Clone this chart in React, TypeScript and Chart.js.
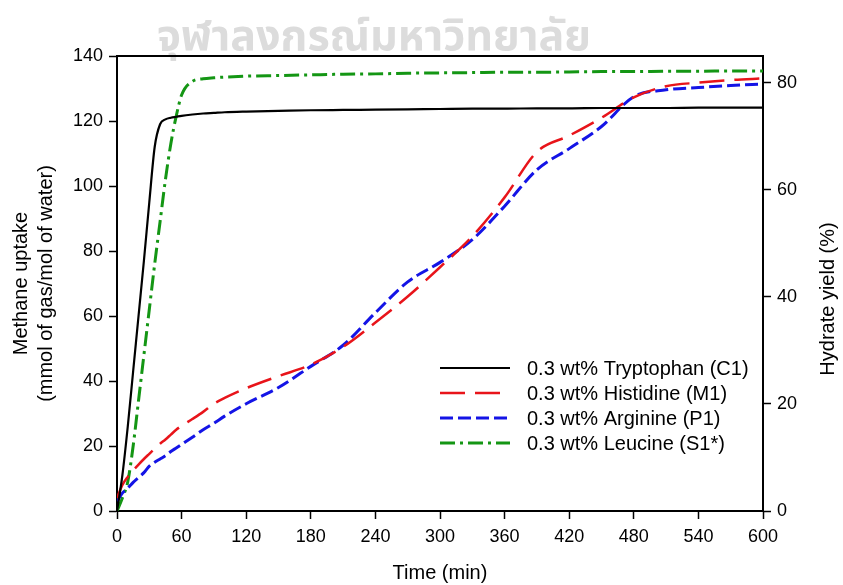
import React, { useEffect, useRef } from "react";
import { Chart, registerables } from "chart.js";

Chart.register(...registerables);

// ---- data ----
const timeMin = [0, 5, 10, 15, 20, 25, 30, 35, 40, 45, 50, 55, 60, 70, 80, 90, 100, 120, 150, 180, 210, 240, 270, 300, 330, 360, 390, 420, 450, 480, 510, 540, 570, 600];
const tryptophanC1 = [0, 11, 26, 43, 60, 77, 95, 112, 119, 120.5, 121, 121.3, 121.6, 122, 122.3, 122.5, 122.7, 122.9, 123.1, 123.3, 123.4, 123.5, 123.6, 123.7, 123.8, 123.8, 123.9, 123.9, 124, 124, 124, 124.1, 124.1, 124.1];
const histidineM1 = [4, 8, 10.5, 12.5, 14.3, 16, 17.6, 19.2, 20.7, 22, 23.5, 25, 26.2, 28.3, 30.5, 33, 34.8, 37.8, 41.5, 45, 50.5, 58, 66, 75, 84.5, 96.5, 110.5, 115.5, 121, 127.3, 130.7, 131.8, 132.6, 133.1];
const arginineP1 = [3, 5.5, 7, 8.8, 10.3, 11.8, 13.8, 15, 16, 17, 18.3, 19.4, 20.5, 22.7, 25, 27, 29.2, 33, 38, 44.5, 51, 61, 70.5, 76.5, 83.5, 93.8, 105, 111.5, 118.3, 127.5, 129.6, 130.3, 130.9, 131.4];
const leucineS1 = [0, 4, 9, 20, 34, 48, 62, 76, 89, 102, 113, 121.5, 128, 132.2, 133, 133.3, 133.5, 133.8, 134, 134.2, 134.4, 134.5, 134.7, 134.8, 134.9, 135, 135, 135.1, 135.2, 135.2, 135.3, 135.3, 135.4, 135.4];

const seriesLabels = [
  "0.3 wt% Tryptophan (C1)",
  "0.3 wt% Histidine (M1)",
  "0.3 wt% Arginine (P1)",
  "0.3 wt% Leucine (S1*)",
];
const seriesColors = ["#000000", "#e8141a", "#1414e6", "#149614"];
const seriesDashes: number[][] = [[], [25, 10], [13, 5], [15, 5, 3, 5]];
const seriesWidths = [2.2, 2.5, 3, 3];

const xTickValues = [0, 60, 120, 180, 240, 300, 360, 420, 480, 540, 600];
const yLeftTicks = [0, 20, 40, 60, 80, 100, 120, 140];
const yRightTicks = [0, 20, 40, 60, 80];

const xTitle = "Time (min)";
const yLeftTitle = ["Methane uptake", "(mmol of gas/mol of water)"];
const yRightTitle = "Hydrate yield (%)";
const watermark = "จุฬาลงกรณ์มหาวิทยาลัย";

const FONT = "'Liberation Sans', Arial, sans-serif";

const W = 843;
const H = 585;
const AREA = { left: 117, right: 763, top: 56, bottom: 511 };

const decorPlugin = {
  id: "decor",
  beforeDraw(chart: any) {
    const ctx = chart.ctx;
    ctx.save();
    ctx.fillStyle = "#ffffff";
    ctx.fillRect(0, 0, chart.width, chart.height);
    ctx.font = `bold 43px 'Noto Sans Thai', 'Noto Sans', 'DejaVu Sans', sans-serif`;
    ctx.fillStyle = "#dcdcdc";
    ctx.textAlign = "center";
    ctx.textBaseline = "alphabetic";
    ctx.fillText(watermark, 374, 50);
    ctx.restore();
  },
  afterDraw(chart: any) {
    const ctx = chart.ctx;
    const a = chart.chartArea;
    ctx.save();
    // top frame line
    ctx.strokeStyle = "#000";
    ctx.lineWidth = 2;
    ctx.beginPath();
    ctx.moveTo(a.left - 1, a.top);
    ctx.lineTo(a.right + 1, a.top);
    ctx.stroke();

    // right axis title (reads bottom-to-top)
    ctx.font = `20px ${FONT}`;
    ctx.fillStyle = "#000";
    ctx.textAlign = "center";
    ctx.textBaseline = "middle";
    ctx.translate(828, 299);
    ctx.rotate(-Math.PI / 2);
    ctx.fillText(yRightTitle, 0, 0);
    ctx.restore();

    // legend inside plot
    ctx.save();
    const rows = [368, 393, 418, 443];
    ctx.font = `20px ${FONT}`;
    ctx.textAlign = "left";
    ctx.textBaseline = "middle";
    seriesLabels.forEach((lab, i) => {
      ctx.strokeStyle = seriesColors[i];
      ctx.lineWidth = seriesWidths[i];
      ctx.setLineDash(seriesDashes[i]);
      ctx.lineCap = "butt";
      ctx.beginPath();
      ctx.moveTo(440, rows[i]);
      ctx.lineTo(510, rows[i]);
      ctx.stroke();
      ctx.setLineDash([]);
      ctx.fillStyle = "#000";
      ctx.fillText(lab, 527, rows[i] + 1);
    });
    ctx.restore();
  },
};

export default function App() {
  const ref = useRef<HTMLCanvasElement | null>(null);

  useEffect(() => {
    if (!ref.current) return;
    const data = [tryptophanC1, histidineM1, arginineP1, leucineS1];
    const chart = new Chart(ref.current, {
      type: "line",
      data: {
        datasets: data.map((vals, i) => ({
          label: seriesLabels[i],
          data: timeMin.map((t, j) => ({ x: t, y: vals[j] })),
          borderColor: seriesColors[i],
          borderWidth: seriesWidths[i],
          borderDash: seriesDashes[i],
          pointRadius: 0,
          fill: false,
          cubicInterpolationMode: "monotone" as const,
          yAxisID: "y",
        })),
      },
      options: {
        responsive: false,
        animation: false,
        devicePixelRatio: 1,
        layout: { padding: { top: AREA.top, left: 0, right: 0, bottom: 0 } },
        plugins: {
          legend: { display: false },
          tooltip: { enabled: false },
        },
        scales: {
          x: {
            type: "linear",
            min: 0,
            max: 600,
            afterBuildTicks: (s: any) => {
              s.ticks = xTickValues.map((v) => ({ value: v }));
            },
            afterFit: (s: any) => {
              s.height = H - AREA.bottom;
            },
            border: { display: true, color: "#000", width: 2 },
            grid: { drawOnChartArea: false, drawTicks: true, tickLength: 8, tickColor: "#000", tickWidth: 1.5 },
            ticks: { color: "#000", font: { family: FONT, size: 18 }, padding: 7, maxRotation: 0 },
            title: {
              display: true,
              text: xTitle,
              color: "#000",
              font: { family: FONT, size: 20, lineHeight: 1.2 },
              padding: { top: 0, bottom: 0 },
            },
          },
          y: {
            type: "linear",
            position: "left",
            min: 0,
            max: 140,
            afterBuildTicks: (s: any) => {
              s.ticks = yLeftTicks.map((v) => ({ value: v }));
            },
            afterFit: (s: any) => {
              s.width = AREA.left;
            },
            border: { display: true, color: "#000", width: 2 },
            grid: { drawOnChartArea: false, drawTicks: true, tickLength: 8, tickColor: "#000", tickWidth: 1.5 },
            ticks: { color: "#000", font: { family: FONT, size: 18 }, padding: 6 },
            title: {
              display: true,
              text: yLeftTitle,
              color: "#000",
              font: { family: FONT, size: 20, lineHeight: 1.25 },
              padding: { top: 9, bottom: 0 },
            },
          },
          y1: {
            type: "linear",
            position: "right",
            min: 0,
            max: 85,
            afterBuildTicks: (s: any) => {
              s.ticks = yRightTicks.map((v) => ({ value: v }));
            },
            afterFit: (s: any) => {
              s.width = W - AREA.right;
            },
            border: { display: true, color: "#000", width: 2 },
            grid: { drawOnChartArea: false, drawTicks: true, tickLength: 8, tickColor: "#000", tickWidth: 1.5 },
            ticks: { color: "#000", font: { family: FONT, size: 18 }, padding: 6 },
          },
        },
      },
      plugins: [decorPlugin],
    });
    return () => chart.destroy();
  }, []);

  return (
    <div style={{ position: "absolute", left: 0, top: 0, width: W, height: H, background: "#fff" }}>
      <canvas ref={ref} width={W} height={H} style={{ display: "block", width: W, height: H }} />
    </div>
  );
}
